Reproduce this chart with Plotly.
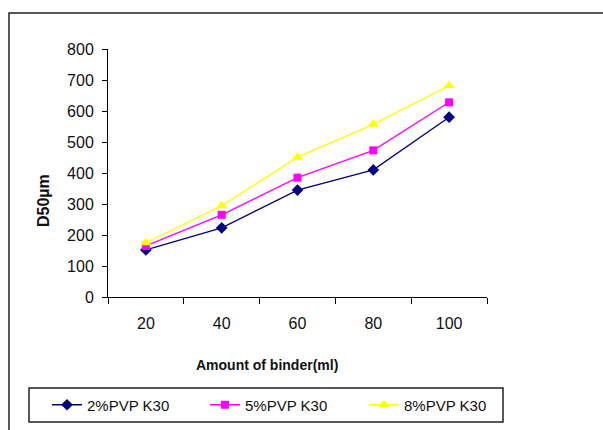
import plotly.graph_objects as go

# Binder amount (ml) and median granule size D50 (µm) for three PVP K30 levels
binder_ml = ["20", "40", "60", "80", "100"]
pvp_2 = [152, 223, 345, 410, 580]
pvp_5 = [165, 265, 385, 473, 628]
pvp_8 = [175, 294, 451, 557, 682]
series_names = ["2%PVP K30", "5%PVP K30", "8%PVP K30"]
y_ticks = [0, 100, 200, 300, 400, 500, 600, 700, 800]

W, H = 603, 430
L, R, T, B = 108, 116, 49, 133
pw, ph = W - L - R, H - T - B

def px_x(x):
    return (x - L) / pw

def px_y(y):
    return (H - B - y) / ph

sans = "Liberation Sans, Arial, sans-serif"
styles = [
    dict(color="#000080", symbol="diamond", size=9),
    dict(color="#ff00ff", symbol="square", size=8),
    dict(color="#ffff00", symbol="triangle-up", size=10),
]
legend_ids = ["legend", "legend2", "legend3"]
legend_left = [47, 205, 364]

fig = go.Figure()
for name, vals, st, lg in zip(series_names, [pvp_2, pvp_5, pvp_8], styles, legend_ids):
    fig.add_trace(go.Scatter(
        x=binder_ml, y=vals, name=name, mode="lines+markers", legend=lg,
        line=dict(color=st["color"], width=1.3),
        marker=dict(color=st["color"], symbol=st["symbol"], size=st["size"],
                    line=dict(width=0)),
    ))

legend_common = dict(
    orientation="h", yanchor="middle", xanchor="left",
    bgcolor="rgba(0,0,0,0)", borderwidth=0, itemwidth=30,
    font=dict(family=sans, size=15, color="#111111"),
)
legends = {}
for lg, lx in zip(legend_ids, legend_left):
    legends[lg] = dict(legend_common, x=px_x(lx), y=px_y(405))

fig.update_layout(
    width=W, height=H,
    margin=dict(l=L, r=R, t=T, b=B, pad=0, autoexpand=False),
    paper_bgcolor="white", plot_bgcolor="white",
    font=dict(family=sans, size=15, color="#111111"),
    showlegend=True,
    xaxis=dict(
        type="category", range=[-0.5, 4.5], tickson="boundaries",
        ticks="outside", ticklen=6,
        tickwidth=1, tickcolor="black", showline=True, linecolor="black",
        linewidth=1, showgrid=False, zeroline=False,
        ticklabelstandoff=12, tickfont=dict(family=sans, size=16),
    ),
    yaxis=dict(
        range=[0, 800], tickvals=y_ticks, ticks="outside", ticklen=5,
        tickwidth=1, tickcolor="black", showline=True, linecolor="black",
        linewidth=1, showgrid=False, zeroline=False,
        ticklabelstandoff=5, tickfont=dict(family=sans, size=16),
    ),
    shapes=[
        # outer chart frame
        dict(type="rect", xref="paper", yref="paper",
             x0=px_x(9), x1=px_x(620), y0=px_y(445), y1=px_y(13),
             line=dict(color="#222222", width=1.5), fillcolor="rgba(0,0,0,0)"),
        # legend frame
        dict(type="rect", xref="paper", yref="paper",
             x0=px_x(29), x1=px_x(503), y0=px_y(422), y1=px_y(388),
             line=dict(color="#222222", width=1.5), fillcolor="rgba(0,0,0,0)"),
    ],
    annotations=[
        dict(text="<b>Amount of binder(ml)</b>", xref="paper", yref="paper",
             x=px_x(267), y=px_y(365), showarrow=False,
             xanchor="center", yanchor="middle",
             font=dict(family=sans, size=14, color="#111111")),
        dict(text="<b>D50µm</b>", xref="paper", yref="paper",
             x=px_x(43), y=px_y(201), showarrow=False, textangle=-90,
             xanchor="center", yanchor="middle",
             font=dict(family=sans, size=16, color="#111111")),
    ],
    **legends,
)

fig.write_html("out.html")
